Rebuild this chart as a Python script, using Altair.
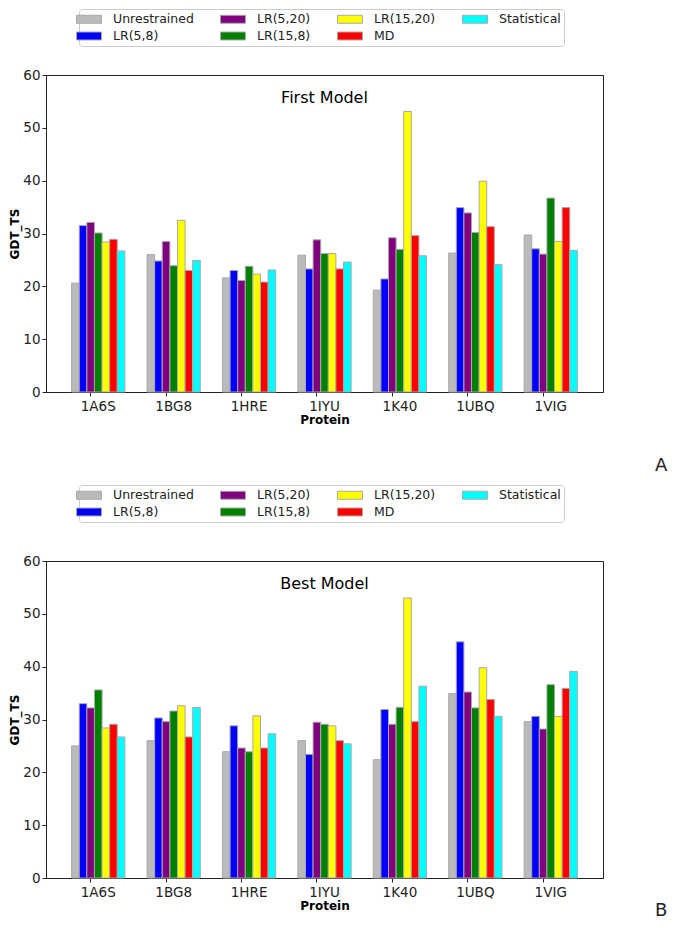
import altair as alt
import pandas as pd

proteins = ["1A6S", "1BG8", "1HRE", "1IYU", "1K40", "1UBQ", "1VIG"]
methods = ["Unrestrained", "LR(5,8)", "LR(5,20)", "LR(15,8)", "LR(15,20)", "MD", "Statistical"]
colors = ["#bababa", "#0000ff", "#800080", "#008000", "#ffff00", "#ff0000", "#00ffff"]

# First Model (panel A), one list per method, in protein order
first_model = {
    "Unrestrained": [20.6, 26.0, 21.6, 25.9, 19.3, 26.3, 29.7],
    "LR(5,8)":      [31.5, 24.8, 23.0, 23.3, 21.4, 34.9, 27.1],
    "LR(5,20)":     [32.1, 28.5, 21.1, 28.8, 29.2, 33.9, 26.1],
    "LR(15,8)":     [30.1, 23.9, 23.8, 26.2, 27.0, 30.2, 36.7],
    "LR(15,20)":    [28.4, 32.5, 22.3, 26.2, 53.1, 39.9, 28.5],
    "MD":           [28.9, 23.0, 20.8, 23.3, 29.6, 31.3, 34.9],
    "Statistical":  [26.7, 24.9, 23.1, 24.6, 25.8, 24.1, 26.8],
}

# Best Model (panel B)
best_model = {
    "Unrestrained": [25.0, 26.0, 23.9, 26.0, 22.4, 34.9, 29.6],
    "LR(5,8)":      [33.0, 30.3, 28.8, 23.4, 31.9, 44.7, 30.6],
    "LR(5,20)":     [32.2, 29.6, 24.6, 29.5, 29.1, 35.2, 28.2],
    "LR(15,8)":     [35.6, 31.6, 23.9, 29.1, 32.3, 32.2, 36.6],
    "LR(15,20)":    [28.4, 32.6, 30.7, 28.8, 53.0, 39.8, 30.6],
    "MD":           [29.1, 26.7, 24.6, 26.0, 29.6, 33.8, 35.9],
    "Statistical":  [26.7, 32.3, 27.3, 25.4, 36.3, 30.6, 39.1],
}

y_ticks = [0, 10, 20, 30, 40, 50, 60]

# legend fills row by row, so order the domain to read column by column
legend_order = ["Unrestrained", "LR(5,20)", "LR(15,20)", "Statistical",
                "LR(5,8)", "LR(15,8)", "MD"]
legend_colors = [colors[methods.index(m)] for m in legend_order]

W, H = 557, 317
FONT = "DejaVu Sans"


def to_frame(d):
    rows = []
    for m in methods:
        for p, v in zip(proteins, d[m]):
            rows.append({"Protein": p, "Method": m, "GDT_TS": v})
    return pd.DataFrame(rows)


def panel(data, title, letter, letter_y, legend_y):
    df = to_frame(data)
    bars = alt.Chart(df).mark_bar(stroke="#a9a9a9", strokeWidth=1).encode(
        x=alt.X("Protein:N", sort=proteins,
                scale=alt.Scale(paddingInner=0.294, paddingOuter=0.34),
                axis=alt.Axis(title="Protein", labelAngle=0, labelFontSize=13.5,
                              titleFontSize=12, titleFontWeight="bold",
                              bandPosition=2.5 / 7,
                              tickSize=4, labelPadding=3, titlePadding=2,
                              domainColor="#222222", tickColor="#222222",
                              labelColor="#222222", titleColor="#000000")),
        xOffset=alt.XOffset("Method:N", sort=methods,
                            scale=alt.Scale(paddingInner=0, paddingOuter=0)),
        y=alt.Y("GDT_TS:Q", scale=alt.Scale(domain=[0, 60], nice=False),
                axis=alt.Axis(title="GDT_TS", values=y_ticks, labelFontSize=13.5,
                              titleFontSize=12, titleFontWeight="bold",
                              tickSize=4, labelPadding=2, titlePadding=1,
                              domainColor="#222222", tickColor="#222222",
                              labelColor="#222222", titleColor="#000000",
                              grid=False)),
        color=alt.Color("Method:N",
                        scale=alt.Scale(domain=legend_order, range=legend_colors),
                        legend=alt.Legend(
                            title=None, orient="none", legendX=33, legendY=legend_y,
                            columns=4, direction="horizontal",
                            symbolType="M-2,-0.64H2V0.64H-2Z", symbolSize=156,
                            symbolStrokeColor="#a9a9a9", symbolStrokeWidth=1,
                            symbolOpacity=1,
                            labelFont=FONT, labelFontSize=12.5, labelColor="#222222",
                            labelOffset=17, columnPadding=24, rowPadding=3,
                            padding=3, strokeColor="#cccccc", fillColor="white",
                            cornerRadius=3)),
    )
    ttl = alt.Chart(pd.DataFrame({"t": [title]})).mark_text(
        font=FONT, fontSize=16, color="#000000", align="center", baseline="middle"
    ).encode(text="t:N", x=alt.value(W / 2), y=alt.value(23))
    lab = alt.Chart(pd.DataFrame({"t": [letter]})).mark_text(
        font=FONT, fontSize=18, color="#222222", align="left", baseline="middle"
    ).encode(text="t:N", x=alt.value(609), y=alt.value(letter_y))
    return alt.layer(bars, ttl, lab).properties(width=W, height=H)


top = panel(first_model, "First Model", "A", 391, -66)
bottom = panel(best_model, "Best Model", "B", 350, -76)

chart = alt.vconcat(top, bottom, spacing=8).resolve_scale(
    color="independent"
).configure(
    font=FONT, padding={"left": 0, "top": 0, "right": 0, "bottom": 0}
).configure_view(
    stroke="#222222", strokeWidth=1
).configure_axis(
    labelFont=FONT, titleFont=FONT
)

chart.save("out.html", embed_options={"renderer": "svg", "actions": False})
